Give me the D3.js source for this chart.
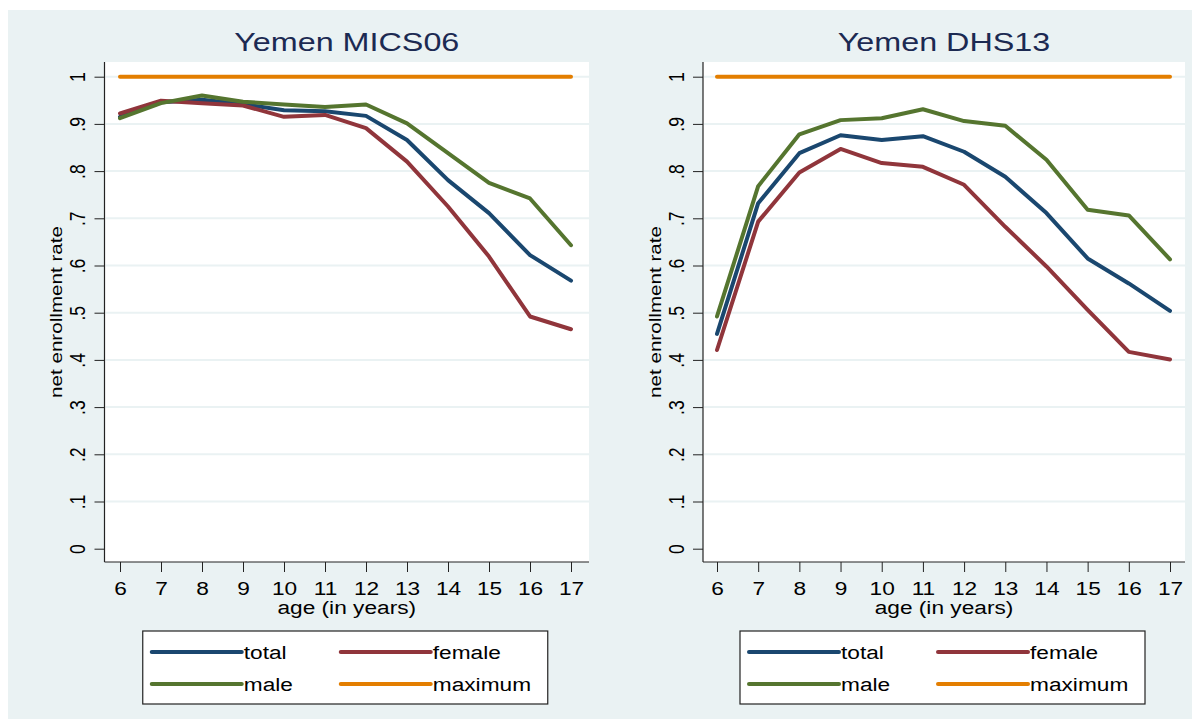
<!DOCTYPE html>
<html>
<head>
<meta charset="utf-8">
<script src="https://cdn.jsdelivr.net/npm/d3@7"></script>
<style>
    body { margin: 0; background: #ffffff; }
    svg text { font-family: "Liberation Sans", Arial, sans-serif; }
    .tick line { stroke: #222; }
</style>
</head>
<body>
<div id="container"></div>
<script>
// ages on the x axis
var ages = [6, 7, 8, 9, 10, 11, 12, 13, 14, 15, 16, 17];

// Yemen MICS06
var micsTotal  = [0.915, 0.946, 0.951, 0.942, 0.929, 0.927, 0.917, 0.866, 0.781, 0.711, 0.622, 0.568];
var micsFemale = [0.922, 0.949, 0.944, 0.939, 0.915, 0.919, 0.891, 0.820, 0.725, 0.619, 0.492, 0.465];
var micsMale   = [0.912, 0.944, 0.960, 0.947, 0.941, 0.936, 0.941, 0.901, 0.838, 0.775, 0.742, 0.643];
var micsMax    = [1, 1, 1, 1, 1, 1, 1, 1, 1, 1, 1, 1];

// Yemen DHS13
var dhsTotal  = [0.455, 0.732, 0.838, 0.876, 0.866, 0.874, 0.841, 0.788, 0.711, 0.615, 0.562, 0.504];
var dhsFemale = [0.421, 0.693, 0.797, 0.847, 0.817, 0.809, 0.771, 0.682, 0.598, 0.506, 0.417, 0.401];
var dhsMale   = [0.492, 0.768, 0.878, 0.908, 0.912, 0.931, 0.906, 0.896, 0.824, 0.718, 0.706, 0.613];
var dhsMax    = [1, 1, 1, 1, 1, 1, 1, 1, 1, 1, 1, 1];

var yTicks = [0, 0.1, 0.2, 0.3, 0.4, 0.5, 0.6, 0.7, 0.8, 0.9, 1];
var yTickLabels = ["0", ".1", ".2", ".3", ".4", ".5", ".6", ".7", ".8", ".9", "1"];

var seriesNames = ["total", "female", "male", "maximum"];
var colors = ["#1a476f", "#90353b", "#55752f", "#e37e00"];

var panels = [
    { title: "Yemen MICS06", series: [micsTotal, micsFemale, micsMale, micsMax], left: 104.5, right: 589, x0: 120, x1: 571 },
    { title: "Yemen DHS13",  series: [dhsTotal, dhsFemale, dhsMale, dhsMax],     left: 703,   right: 1185, x0: 717, x1: 1170 }
];

var width = 1192, height = 719;
var plotTop = 62, plotBottom = 562;
var stretch = 1.22; // text in the picture is a bit wide

var svg = d3.select("div#container")
    .append("svg")
    .attr("width", width)
    .attr("height", height);

svg.append("rect")
    .attr("x", 8).attr("y", 10)
    .attr("width", width - 8).attr("height", height - 10)
    .attr("fill", "#eaf2f3");

panels.forEach(function(p) {
    var x = d3.scaleLinear().domain([6, 17]).range([p.x0, p.x1]);
    var y = d3.scaleLinear().domain([0, 1]).range([548.7, 76.7]);
    var mid = (p.left + p.right) / 2;

    var g = svg.append("g");

    g.append("rect")
        .attr("x", p.left).attr("y", plotTop)
        .attr("width", p.right - p.left).attr("height", plotBottom - plotTop)
        .attr("fill", "#ffffff");

    // grid
    g.selectAll(".grid")
        .data(yTicks.filter(function(t) { return t > 0; }))
        .enter().append("line")
        .attr("class", "grid")
        .attr("x1", p.left + 1).attr("x2", p.right)
        .attr("y1", function(d) { return y(d); })
        .attr("y2", function(d) { return y(d); })
        .attr("stroke", "#eaf2f3")
        .attr("stroke-width", 2);

    // title
    g.append("text")
        .attr("transform", "translate(" + mid + ",51) scale(" + stretch + ",1)")
        .attr("text-anchor", "middle")
        .attr("font-size", 26.5)
        .attr("fill", "#1c2a52")
        .text(p.title);

    // lines
    var line = d3.line()
        .x(function(d, i) { return x(ages[i]); })
        .y(function(d) { return y(d); });

    g.selectAll(".series")
        .data(p.series)
        .enter().append("path")
        .attr("class", "series")
        .attr("d", line)
        .attr("fill", "none")
        .attr("stroke", function(d, i) { return colors[i]; })
        .attr("stroke-width", 4)
        .attr("stroke-linejoin", "round")
        .attr("stroke-linecap", "round");

    // axes
    var xAxis = d3.axisBottom(x)
        .tickValues(ages)
        .tickSize(10)
        .tickSizeOuter(0);

    var gx = g.append("g")
        .attr("class", "x axis")
        .attr("transform", "translate(0," + plotBottom + ")")
        .call(xAxis);
    gx.select(".domain").remove();
    gx.selectAll("text")
        .attr("y", null).attr("dy", null)
        .attr("transform", "translate(0,33) scale(" + stretch + ",1)")
        .attr("font-size", 18.6)
        .attr("fill", "#000");

    var labels = new Map();
    yTicks.forEach(function(t, i) { labels.set(t, yTickLabels[i]); });

    var yAxis = d3.axisLeft(y)
        .tickValues(yTicks)
        .tickFormat(function(d) { return labels.get(d); })
        .tickSize(10)
        .tickSizeOuter(0);

    var gy = g.append("g")
        .attr("class", "y axis")
        .attr("transform", "translate(" + p.left + ",0)")
        .call(yAxis);
    gy.select(".domain").remove();
    gy.selectAll("text")
        .attr("x", null).attr("dy", "0.36em")
        .attr("text-anchor", "middle")
        .attr("transform", "translate(-27,0) scale(" + stretch + ",1) rotate(-90)")
        .attr("font-size", 17.5)
        .attr("fill", "#000");

    g.append("line")
        .attr("x1", p.left).attr("x2", p.left)
        .attr("y1", plotTop).attr("y2", plotBottom)
        .attr("stroke", "#222").attr("stroke-width", 1.2);
    g.append("line")
        .attr("x1", p.left).attr("x2", p.right)
        .attr("y1", plotBottom).attr("y2", plotBottom)
        .attr("stroke", "#222").attr("stroke-width", 1.2);

    // axis titles
    g.append("text")
        .attr("transform", "translate(" + (p.left - 42.5) + "," + ((plotTop + plotBottom) / 2) + ") rotate(-90)")
        .attr("text-anchor", "middle")
        .attr("font-size", 17)
        .attr("textLength", 172)
        .attr("lengthAdjust", "spacingAndGlyphs")
        .attr("fill", "#000")
        .text("net enrollment rate");

    g.append("text")
        .attr("transform", "translate(" + mid + ",614) scale(" + stretch + ",1)")
        .attr("text-anchor", "middle")
        .attr("font-size", 18.6)
        .attr("fill", "#000")
        .text("age (in years)");

    // legend
    var lx = mid - 204, ly = 631;
    var legend = g.append("g").attr("transform", "translate(" + lx + "," + ly + ")");
    legend.append("rect")
        .attr("x", 0).attr("y", 0)
        .attr("width", 405).attr("height", 73)
        .attr("fill", "#ffffff")
        .attr("stroke", "#222").attr("stroke-width", 1.2);

    var items = legend.selectAll(".item")
        .data(seriesNames)
        .enter().append("g")
        .attr("class", "item")
        .attr("transform", function(d, i) {
            return "translate(" + (i % 2 === 0 ? 9 : 198) + "," + (i < 2 ? 21 : 53) + ")";
        });
    items.append("line")
        .attr("x1", 0).attr("x2", 90)
        .attr("stroke", function(d, i) { return colors[i]; })
        .attr("stroke-width", 4)
        .attr("stroke-linecap", "round");
    items.append("text")
        .attr("transform", "translate(92,6.5) scale(" + stretch + ",1)")
        .attr("font-size", 18.6)
        .attr("fill", "#000")
        .text(function(d) { return d; });
});
</script>
</body>
</html>
